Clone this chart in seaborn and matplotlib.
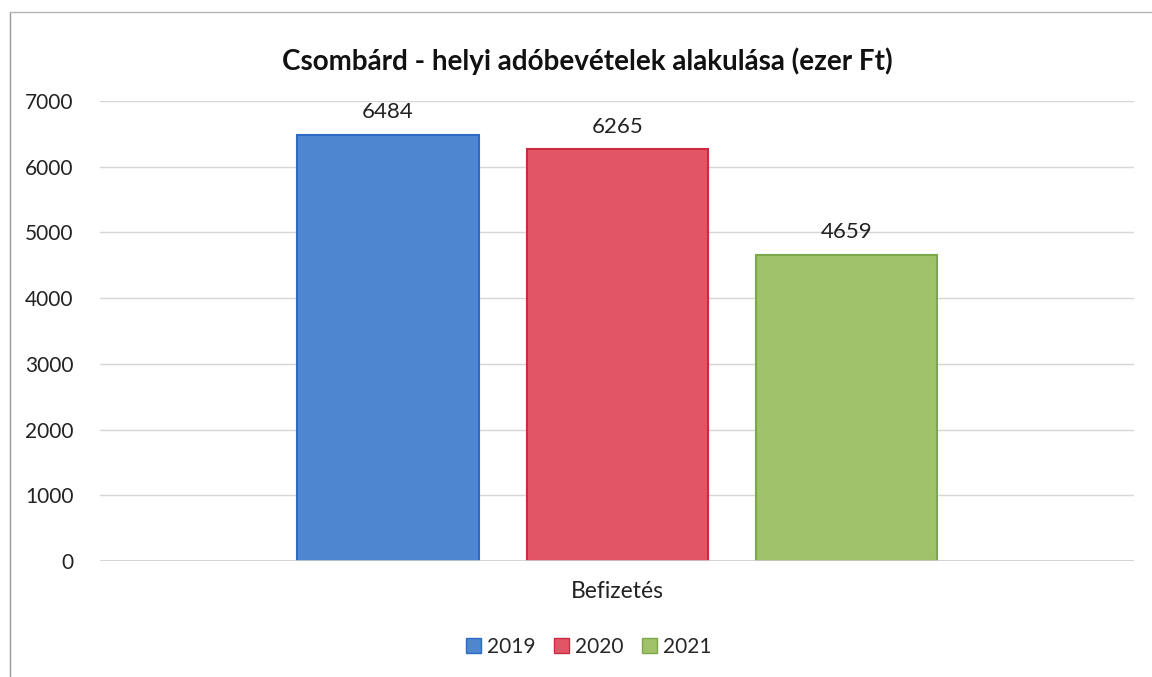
import seaborn as sns
import matplotlib.pyplot as plt
import pandas as pd
from matplotlib.lines import Line2D

# data
categories = ["Befizetés"]
years = ["2019", "2020", "2021"]
values = [6484, 6265, 4659]
fill_colors = ["#4f86d0", "#e25567", "#a0c26a"]
edge_colors = ["#2c6cc4", "#cc2a40", "#7da84a"]

df = pd.DataFrame({"kategoria": categories * len(years), "ev": years, "ertek": values})

sns.set_theme(style="white")
plt.rcParams["font.family"] = ["Lato", "DejaVu Sans"]

fig = plt.figure(figsize=(11.52, 6.77), dpi=100)
ax = fig.add_axes([0.0868, 0.171, 0.898, 0.68])

sns.barplot(
    data=df, x="kategoria", y="ertek", hue="ev", palette=fill_colors,
    saturation=1, width=0.665, gap=0.21, ax=ax, legend=False,
)

for bar, ec in zip(ax.patches, edge_colors):
    bar.set_edgecolor(ec)
    bar.set_linewidth(1.5)

for cont in ax.containers:
    ax.bar_label(cont, fmt="%d", padding=9, fontsize=16, color="#222222")

ax.set_ylim(0, 7000)
ax.set_xlim(-0.5, 0.5)
ax.set_yticks(range(0, 7001, 1000))
ax.yaxis.grid(True, color="#d6d6d6", linewidth=1)
ax.set_axisbelow(True)
for s in ["top", "right", "left", "bottom"]:
    ax.spines[s].set_visible(False)
ax.axhline(0, color="#cfcfcf", linewidth=1.2)
ax.tick_params(axis="both", length=0, labelsize=15, colors="#222222")
ax.tick_params(axis="y", pad=19)
ax.tick_params(axis="x", pad=14, labelsize=16.5)
ax.set_xlabel("")
ax.set_ylabel("")

fig.suptitle("Csombárd - helyi adóbevételek alakulása (ezer Ft)",
             fontsize=20, fontweight="bold", y=0.93, x=0.51, color="#111111")

handles = [plt.Rectangle((0, 0), 1, 1, facecolor=fc, edgecolor=ec)
           for fc, ec in zip(fill_colors, edge_colors)]
fig.legend(handles, years, loc="center", bbox_to_anchor=(0.511, 0.045), ncol=3,
           frameon=False, fontsize=15, handlelength=0.7, handleheight=0.7,
           handletextpad=0.3, columnspacing=0.9)

# frame of the scanned chart
fig.add_artist(Line2D([0.009, 0.009], [0, 0.982], color="#9a9a9a", linewidth=1))
fig.add_artist(Line2D([0.009, 1.0], [0.982, 0.982], color="#b5b5b5", linewidth=1))

fig.savefig("out.png", dpi=100)
